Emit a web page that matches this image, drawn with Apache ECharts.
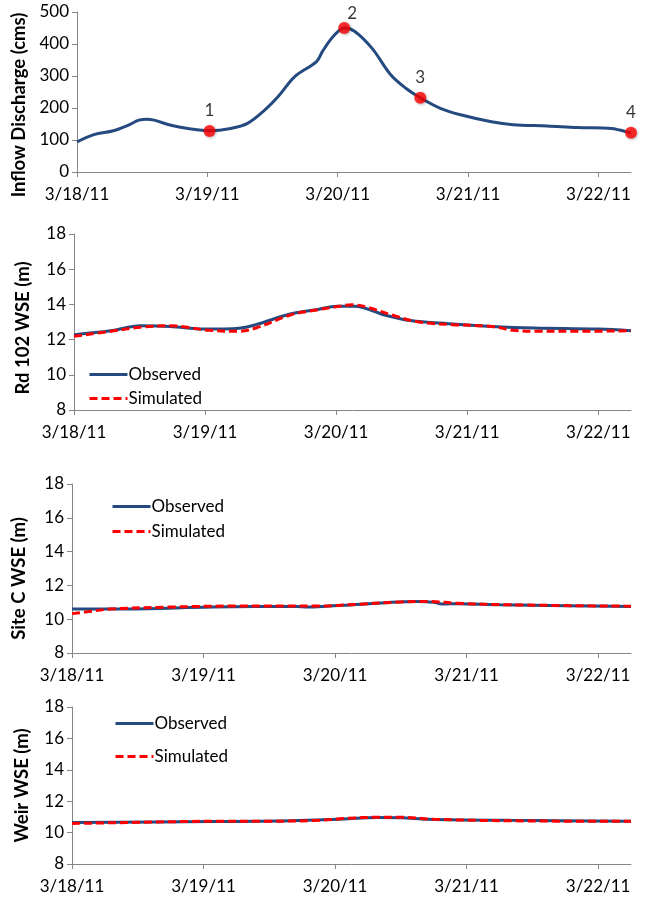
<!DOCTYPE html>
<html>
<head>
<meta charset="utf-8">
<script src="https://cdn.jsdelivr.net/npm/echarts@6/dist/echarts.min.js"></script>
<style>
html,body{margin:0;padding:0;background:#fff;}
#c{width:671px;height:902px;}
</style>
</head>
<body>
<div id="c"></div>
<script>
// ---- data (x in hours after 3/18/11 00:00) ----
const dayLabels = ['3/18/11', '3/19/11', '3/20/11', '3/21/11', '3/22/11'];

const inflowHours = [0, 3.1, 6.7, 9.4, 11.4, 12.8, 14.2, 17.3, 20.4, 24.4, 28.3, 31.4, 34.6, 37, 40.1, 44.1, 45.2, 47.2, 49.2, 51.1, 54.3, 57.8, 60.6, 63.2, 66.9, 70.8, 76.3, 80.3, 86.6, 92.1, 98.4, 99.9, 102];
const inflowValues = [94, 117, 129, 146, 162, 165, 162, 146, 136, 129, 136, 152, 194, 235, 298, 345, 377, 424, 450, 440, 387, 303, 261, 232, 199, 178, 157, 148, 144, 139, 136, 131, 122];

const markerHours = [24.4, 49.2, 63.2, 102];
const markerValues = [128, 450, 232, 123];
const markerLabels = ['1', '2', '3', '4'];

const rdObsHours = [0, 6.7, 12.2, 17.6, 23.9, 30.2, 33.3, 39.6, 44.3, 48.2, 51.4, 56.9, 61.6, 68.6, 76.5, 84.3, 96.1, 102];
const rdObsValues = [12.28, 12.5, 12.79, 12.75, 12.6, 12.65, 12.85, 13.45, 13.7, 13.9, 13.9, 13.4, 13.08, 12.9, 12.75, 12.66, 12.6, 12.5];
const rdSimHours = [0, 6.7, 12.2, 17.6, 20.7, 24.7, 30.2, 33.3, 39.6, 42.7, 47.4, 50.9, 53.6, 58.4, 63.1, 69.4, 76.5, 80.4, 84.3, 92.2, 102];
const rdSimValues = [12.19, 12.47, 12.7, 12.79, 12.7, 12.53, 12.47, 12.66, 13.4, 13.6, 13.83, 13.98, 13.85, 13.38, 13.0, 12.85, 12.75, 12.53, 12.47, 12.47, 12.5];

const siteObsHours = [0, 10, 25.6, 41, 43, 47, 49.5, 57.3, 62.8, 66, 67.5, 70.3, 78, 90, 102];
const siteObsValues = [10.6, 10.6, 10.72, 10.75, 10.72, 10.78, 10.82, 10.98, 11.05, 11.0, 10.9, 10.92, 10.85, 10.8, 10.75];
const siteSimHours = [0, 3, 7, 18, 30, 45, 52, 60, 65, 70, 80, 102];
const siteSimValues = [10.33, 10.45, 10.6, 10.72, 10.78, 10.78, 10.88, 11.02, 11.05, 10.95, 10.85, 10.77];

const weirObsHours = [0, 25.6, 40, 49.5, 55.7, 60, 65, 80, 102];
const weirObsValues = [10.64, 10.7, 10.75, 10.87, 10.96, 10.95, 10.85, 10.78, 10.72];
const weirSimHours = [0, 10, 25.6, 35, 45, 50, 56, 60, 66, 80, 102];
const weirSimValues = [10.58, 10.64, 10.72, 10.72, 10.78, 10.9, 10.98, 10.98, 10.85, 10.75, 10.72];

const yTitles = ['Inflow Discharge (cms)', 'Rd 102 WSE (m)', 'Site C WSE (m)', 'Weir WSE (m)'];

// ---- helpers ----
const zip = (xs, ys) => xs.map((x, i) => [x, ys[i]]);
const FONT = 'Lato';
const AXIS_COLOR = '#868686';
const OBS_COLOR = '#254A80';
const SIM_COLOR = '#FF0000';

const grids = [
  {left: 77, right: 40, top: 12, height: 160},
  {left: 74, right: 40, top: 234, height: 176},
  {left: 72, right: 40, top: 484, height: 169},
  {left: 72, right: 40, top: 707, height: 157}
];
const nameGaps = [47, 41, 43, 40];
const namePads = [[0, 26, 0, 0], [0, 12, 0, 0], [0, 20, 0, 0], [0, 0, 0, 0]];

const xAxes = grids.map((g, i) => ({
  type: 'value', gridIndex: i, min: 0, max: 102, interval: 24,
  axisLine: {lineStyle: {color: AXIS_COLOR, width: 1}},
  axisTick: {show: true, length: 5, lineStyle: {color: AXIS_COLOR}},
  splitLine: {show: false},
  axisLabel: {
    color: '#000', fontFamily: FONT, fontSize: 17, margin: 14,
    showMaxLabel: false,
    formatter: v => dayLabels[Math.round(v / 24)] || ''
  }
}));

const yAxes = grids.map((g, i) => ({
  type: 'value', gridIndex: i,
  min: i === 0 ? 0 : 8, max: i === 0 ? 500 : 18, interval: i === 0 ? 100 : 2,
  axisLine: {show: true, lineStyle: {color: AXIS_COLOR, width: 1}},
  axisTick: {show: true, length: 5, lineStyle: {color: AXIS_COLOR}},
  splitLine: {show: false},
  axisLabel: {color: '#000', fontFamily: FONT, fontSize: 17, margin: 8},
  name: yTitles[i], nameLocation: 'middle', nameRotate: 90,
  nameGap: nameGaps[i],
  nameTextStyle: {color: '#000', fontFamily: FONT, fontSize: 18.5, fontWeight: 'bold', padding: namePads[i]}
}));

function obsSeries(idx, data) {
  return {
    name: 'Observed', type: 'line', xAxisIndex: idx, yAxisIndex: idx,
    data: data, smooth: 0.35, symbol: 'none',
    lineStyle: {color: OBS_COLOR, width: 3}, itemStyle: {color: OBS_COLOR}, z: 2
  };
}
function simSeries(idx, data) {
  return {
    name: 'Simulated', type: 'line', xAxisIndex: idx, yAxisIndex: idx,
    data: data, smooth: 0.35, symbol: 'none',
    lineStyle: {color: SIM_COLOR, width: 3, type: [8, 4]}, itemStyle: {color: SIM_COLOR}, z: 3
  };
}

const legendBase = {
  orient: 'vertical', itemWidth: 38, itemHeight: 12, selectedMode: false,
  itemStyle: {opacity: 0},
  lineStyle: {width: 3},
  textStyle: {color: '#000', fontFamily: FONT, fontSize: 17, padding: [0, 0, 0, -4]},
  data: ['Observed', 'Simulated']
};

const option = {
  animation: false,
  backgroundColor: '#fff',
  grid: grids,
  xAxis: xAxes,
  yAxis: yAxes,
  legend: [
    Object.assign({}, legendBase, {left: 83, top: 361, itemGap: 7}),
    Object.assign({}, legendBase, {left: 106, top: 493, itemGap: 8}),
    Object.assign({}, legendBase, {left: 109, top: 710, itemGap: 16})
  ],
  series: [
    {
      name: 'Inflow', type: 'line', xAxisIndex: 0, yAxisIndex: 0,
      data: zip(inflowHours, inflowValues), smooth: 0.35, symbol: 'none',
      lineStyle: {color: OBS_COLOR, width: 3}
    },
    {
      name: 'Points', type: 'scatter', xAxisIndex: 0, yAxisIndex: 0,
      data: markerHours.map((h, i) => ({
        value: [h, markerValues[i]], name: markerLabels[i],
        label: i === 1 ? {offset: [8, 6]} : undefined
      })),
      symbolSize: 12,
      itemStyle: {color: '#FF0000', shadowColor: 'rgba(0,0,0,0.35)', shadowBlur: 3, shadowOffsetX: 1, shadowOffsetY: 1},
      label: {
        show: true, position: 'top', distance: 6, formatter: p => p.name,
        color: '#000', fontFamily: FONT, fontSize: 17
      },
      z: 5
    },
    obsSeries(1, zip(rdObsHours, rdObsValues)),
    simSeries(1, zip(rdSimHours, rdSimValues)),
    obsSeries(2, zip(siteObsHours, siteObsValues)),
    simSeries(2, zip(siteSimHours, siteSimValues)),
    obsSeries(3, zip(weirObsHours, weirObsValues)),
    simSeries(3, zip(weirSimHours, weirSimValues))
  ]
};

const chart = echarts.init(document.getElementById('c'), null, {renderer: 'canvas'});
chart.setOption(option);
</script>
</body>
</html>
